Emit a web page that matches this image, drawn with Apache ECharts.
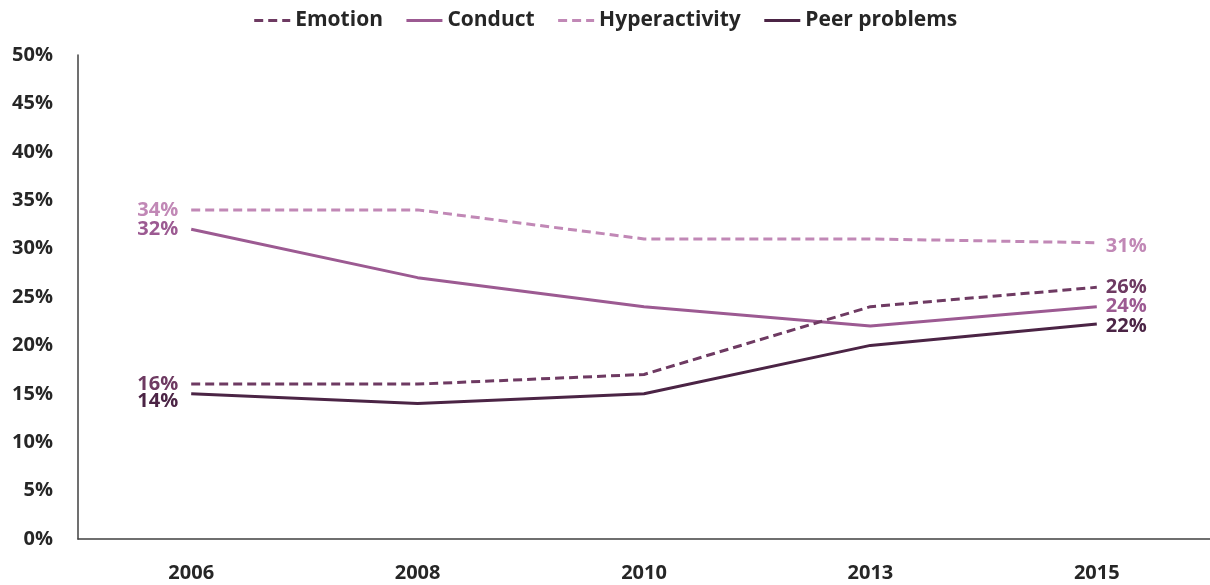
<!DOCTYPE html>
<html>
<head>
<meta charset="utf-8">
<script src="https://cdn.jsdelivr.net/npm/echarts@6/dist/echarts.min.js"></script>
<style>
  html, body { margin: 0; padding: 0; background: #fff; }
  #chart { width: 1210px; height: 585px; }
</style>
</head>
<body>
<div id="chart"></div>
<script>
// survey years
var years = ['2006', '2008', '2010', '2013', '2015'];

// % of children with problems, per scale
var emotion = [16, 16, 17, 24, 26];
var conduct = [32, 27, 24, 22, 24];
var hyperactivity = [34, 34, 31, 31, 30.6];
var peerProblems = [15, 14, 15, 20, 22.2];

// end labels as printed on the chart
var emotionLabels = ['16%', '26%'];
var conductLabels = ['32%', '24%'];
var hyperLabels = ['34%', '31%'];
var peerLabels = ['14%', '22%'];

var yTicks = [0, 5, 10, 15, 20, 25, 30, 35, 40, 45, 50];

var FONT = 'Open Sans';
var chart = echarts.init(document.getElementById('chart'));

function endLabels(texts, color, offL, offR) {
    return function (data) {
        return data.map(function (v, i) {
            var item = { value: v };
            if (i === 0) {
                item.label = { show: true, position: 'left', distance: 12, offset: offL || [0, 0],
                    formatter: texts[0], color: color };
            } else if (i === data.length - 1) {
                item.label = { show: true, position: 'right', distance: 8, offset: offR || [0, 0],
                    formatter: texts[1], color: color };
            }
            return item;
        });
    };
}

function makeSeries(name, data, texts, color, dashed, offL, offR) {
    return {
        name: name,
        type: 'line',
        data: endLabels(texts, color, offL, offR)(data),
        symbol: 'circle',
        symbolSize: 2,
        showSymbol: true,
        lineStyle: { color: color, width: 3, type: dashed ? [9, 5] : 'solid' },
        itemStyle: { color: 'transparent', borderWidth: 0 },
        label: { fontFamily: FONT, fontWeight: 'bold', fontSize: 20 },
        emphasis: { disabled: true },
        z: dashed ? 3 : 2
    };
}

var option = {
    animation: false,
    backgroundColor: '#fff',
    textStyle: { fontFamily: FONT },
    legend: {
        top: 5,
        left: 'center',
        itemWidth: 36,
        itemHeight: 14,
        itemGap: 22,
        itemStyle: { opacity: 0 },
        lineStyle: { width: 3 },
        textStyle: { fontFamily: FONT, fontWeight: 'bold', fontSize: 21, color: '#262626' },
        data: ['Emotion', 'Conduct', 'Hyperactivity', 'Peer problems']
    },
    grid: { left: 78, right: -8, top: 55, bottom: 46, containLabel: false },
    xAxis: {
        type: 'category',
        data: years,
        boundaryGap: true,
        axisLine: { lineStyle: { color: '#404040', width: 1.5 } },
        axisTick: { show: false },
        axisLabel: { fontFamily: FONT, fontWeight: 'bold', fontSize: 20, color: '#262626', margin: 24 }
    },
    yAxis: {
        type: 'value',
        min: yTicks[0],
        max: yTicks[yTicks.length - 1],
        interval: 5,
        axisLine: { show: true, lineStyle: { color: '#404040', width: 1.5 } },
        axisTick: { show: false },
        splitLine: { show: false },
        axisLabel: { fontFamily: FONT, fontWeight: 'bold', fontSize: 20, color: '#262626', margin: 25,
            formatter: '{value}%' }
    },
    series: [
        makeSeries('Emotion', emotion, emotionLabels, '#6e3a62', true),
        makeSeries('Conduct', conduct, conductLabels, '#9c5a92', false),
        makeSeries('Hyperactivity', hyperactivity, hyperLabels, '#c188b6', true, [0, 0], [0, 4]),
        makeSeries('Peer problems', peerProblems, peerLabels, '#4b2445', false, [0, 7], [0, 2])
    ]
};

chart.setOption(option);
</script>
</body>
</html>
